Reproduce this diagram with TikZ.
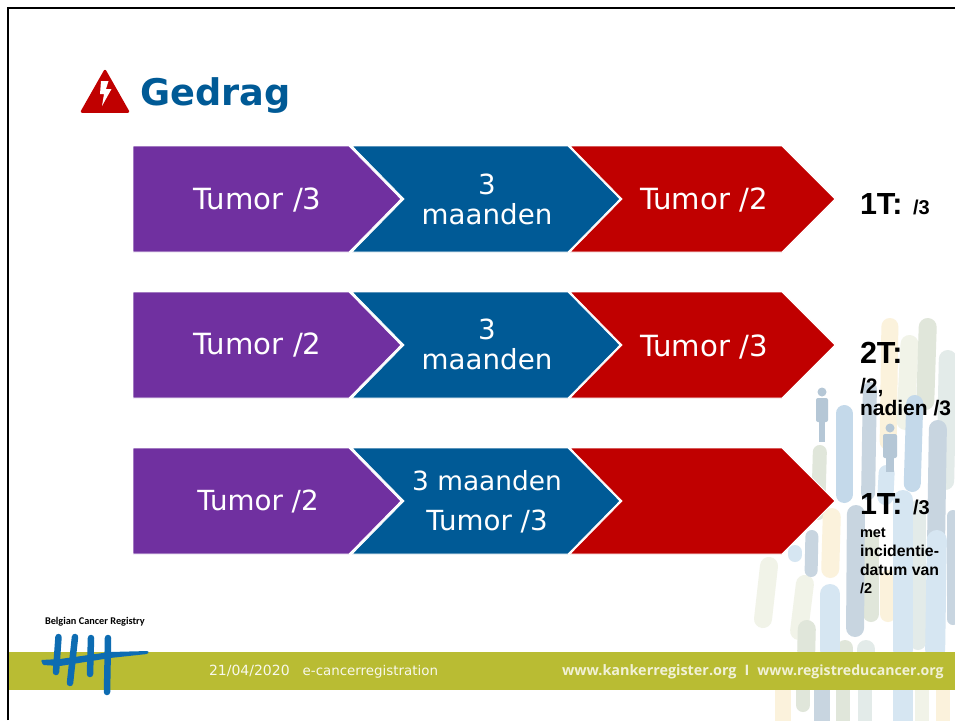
\documentclass[tikz,border=0pt]{standalone}
\usepackage{fontspec}
\setmainfont{DejaVu Sans}
\newfontfamily\arialf{Liberation Sans}
\newfontfamily\openf{Open Sans}
\newfontfamily\carf{Carlito}
\definecolor{cpurple}{HTML}{7030A0}
\definecolor{cblue}{HTML}{005A96}
\definecolor{clogo}{HTML}{0D6CB2}
\definecolor{cred}{HTML}{C00000}
\definecolor{cband}{HTML}{B9BC33}
\definecolor{cyel}{HTML}{FBF2DC}
\definecolor{cgrn}{HTML}{E0E6DA}
\definecolor{cpale}{HTML}{F1F3E8}
\definecolor{cice}{HTML}{E3EBE9}
\definecolor{clblue}{HTML}{D6E6F2}
\definecolor{cmblue}{HTML}{C4D9EA}
\definecolor{cgrey}{HTML}{C8D5E0}
\definecolor{cfig}{HTML}{B5C7D6}
\tikzset{
  x=1pt,y=-1pt,
  chev/.style={draw=white,line width=0.8pt,line join=miter},
  lab/.style={inner sep=0pt,outer sep=0pt,anchor=base,text=white},
  rlab/.style={inner sep=0pt,outer sep=0pt,anchor=base west,text=black},
  brush/.style={line width=#1,line cap=round},
  logostroke/.style={draw=clogo,line cap=round},
}
\newcommand{\ChevA}[2]{\fill[chev,fill=cpurple] (133,#1) -- (349,#1) -- (401,#2) -- (349,{2*#2-#1}) -- (133,{2*#2-#1}) -- cycle;}
\newcommand{\ChevB}[2]{\fill[chev,fill=cblue] (352,#1) -- (568,#1) -- (620,#2) -- (568,{2*#2-#1}) -- (352,{2*#2-#1}) -- (404,#2) -- cycle;}
\newcommand{\ChevC}[2]{\fill[chev,fill=cred] (570,#1) -- (782,#1) -- (835,#2) -- (782,{2*#2-#1}) -- (570,{2*#2-#1}) -- (622,#2) -- cycle;}
\begin{document}
\begin{tikzpicture}
\useasboundingbox (0,0) rectangle (955,720);
\fill[white] (0,0) rectangle (955,720);
% background brush strokes
\foreach \c/\w/\xa/\ya/\xb/\yb in {
 cpale/18/770/557/762/628, cpale/18/806/575/798/640, cgrn/18/807/620/806/660,
 cyel/17/890/318/888/450, cpale/18/910/335/905/430, cgrn/18/928/318/925/410,
 cice/18/948/350/945/490, cgrn/14/820/445/818/520,
 cyel/18/832/508/830/578, cyel/16/888/570/888/622,
 cgrn/16/871/530/871/622, cgrn/16/845/640/845/660, cice/18/866/640/866/660,
 cice/16/918/500/918/650,
 cyel/16/783/680/783/735, cgrn/14/803/680/803/712, cgrn/14/843/680/843/735,
 cice/14/865/680/865/735, cpale/14/922/680/922/735, cyel/14/943/680/943/735}
 {\draw[brush=\w pt,draw=\c,shorten <=\w/2*1pt,shorten >=\w/2*1pt] (\xa,\ya) -- (\xb,\yb);}
\foreach \c/\w/\xa/\ya/\xb/\yb in {
 cmblue/17/844/405/844/503, cgrey/14/870/382/868/500, cmblue/17/915/395/912/492,
 cgrey/18/938/420/936/545, clblue/16/887/465/885/505, cgrey/18/856/505/855/637,
 clblue/14/795/545/795/562, cgrey/13/812/530/811/577, clblue/20/830/584/830/660,
 clblue/20/903/490/903/660, clblue/20/937/530/935/660, cgrey/12/953/510/953/625,
 cgrey/16/822/680/822/735, clblue/20/903/680/903/735}
 {\draw[brush=\w pt,draw=\c,shorten <=\w/2*1pt,shorten >=\w/2*1pt] (\xa,\ya) -- (\xb,\yb);}
% small figures
\fill[cfig] (822,392) circle (4.5);
\fill[cfig,rounded corners=2pt] (816,398) rectangle (828,422);
\fill[cfig] (819,422) rectangle (825,442);
\fill[cfig] (890,428) circle (4.5);
\fill[cfig,rounded corners=2pt] (883,434) rectangle (897,458);
\fill[cfig] (886,458) rectangle (894,472);
% band
\fill[cband] (9,652) rectangle (955,690);
% frame
\draw[black,line width=2.7pt] (8,720) -- (8,8) -- (955,8);
% icon
\fill[cred,draw=cred,line width=2.5pt,line join=round] (105,71) -- (128,111.5) -- (82,111.5) -- cycle;
\fill[white] (101,81) -- (108.5,81) -- (106,89) -- (111.5,89) -- (102,106) -- (104,94) -- (100,94) -- cycle;
% chevrons
\ChevA{146}{199} \ChevB{146}{199} \ChevC{146}{199}
\ChevA{292}{345} \ChevB{292}{345} \ChevC{292}{345}
\ChevA{448}{501} \ChevB{448}{501} \ChevC{448}{501}
% title
\node[inner sep=0pt,anchor=base west,text=cblue] (title) at (140,105) {\fontsize{36.7}{40}\selectfont\bfseries Gedrag};
% row 1
\node[lab] (a1) at (257.5,209) {\fontsize{29.2}{30}\selectfont Tumor /3};
\node[lab] (b1a) at (487,194) {\fontsize{27.7}{30}\selectfont 3};
\node[lab] (b1b) at (487,224) {\fontsize{27.7}{30}\selectfont maanden};
\node[lab] (c1) at (704,209) {\fontsize{29.2}{30}\selectfont Tumor /2};
% row 2
\node[lab] (a2) at (257.5,354) {\fontsize{29.2}{30}\selectfont Tumor /2};
\node[lab] (b2a) at (487,339) {\fontsize{27.7}{30}\selectfont 3};
\node[lab] (b2b) at (487,369) {\fontsize{27.7}{30}\selectfont maanden};
\node[lab] (c2) at (704,356) {\fontsize{29.2}{30}\selectfont Tumor /3};
% row 3
\node[lab] (a3) at (258,510) {\fontsize{27.7}{30}\selectfont Tumor /2};
\node[lab] (b3a) at (487,490) {\fontsize{26.4}{30}\selectfont 3 maanden};
\node[lab] (b3b) at (487,530) {\fontsize{27.7}{30}\selectfont Tumor /3};
% right labels
\node[rlab] (r1) at (860,214) {\arialf\bfseries\fontsize{30.5}{30}\selectfont 1T:};
\node[rlab] (r1b) at (913,214) {\arialf\bfseries\fontsize{20}{22}\selectfont /3};
\node[rlab] (r2) at (860,363) {\arialf\bfseries\fontsize{30.5}{30}\selectfont 2T:};
\node[rlab] (r2b) at (860,393) {\arialf\bfseries\fontsize{21}{22}\selectfont /2,};
\node[rlab] (r2c) at (860,415) {\arialf\bfseries\fontsize{21}{22}\selectfont nadien /3};
\node[rlab] (r3) at (860,514) {\arialf\bfseries\fontsize{30.5}{30}\selectfont 1T:};
\node[rlab] (r3b) at (913,514) {\arialf\bfseries\fontsize{20}{22}\selectfont /3};
\node[rlab] (r3c) at (860,537) {\arialf\bfseries\fontsize{14.5}{16}\selectfont met};
\node[rlab] (r3d) at (860,556) {\arialf\bfseries\fontsize{15.8}{16}\selectfont incidentie-};
\node[rlab] (r3e) at (860,575) {\arialf\bfseries\fontsize{15.8}{16}\selectfont datum van};
\node[rlab] (r3f) at (860,593) {\arialf\bfseries\fontsize{14.5}{16}\selectfont /2};
% footer
\node[rlab,text=white!90!cband] (foot) at (209,675) {{\fontsize{14}{15}\selectfont 21/04/2020}\hspace{13pt}{\fontsize{13.4}{15}\selectfont e-cancerregistration}};
\node[rlab,text=white!80!cband] (url) at (562,675) {\openf\bfseries\fontsize{14.4}{15}\selectfont www.kankerregister.org\hspace{8pt}I\hspace{8pt}\fontsize{14.1}{15}\selectfont www.registreducancer.org};
\node[rlab] (bcr) at (45,624) {\carf\bfseries\fontsize{10.3}{11}\selectfont Belgian Cancer Registry};
% logo
\draw[logostroke,line width=6.5pt] (58.5,637) -- (56,672);
\draw[logostroke,line width=6.5pt] (75,637) -- (70,683);
\draw[logostroke,line width=6.5pt] (91,638) -- (90,674);
\draw[logostroke,line width=6.5pt] (108,638) -- (107,692);
\fill[clogo,rounded corners=1pt] (41,660) -- (60,659) -- (110,652) -- (148,651) -- (149,652.5) -- (147,654) -- (110,658) -- (60,666) -- (43,665) -- cycle;
\end{tikzpicture}
\end{document}
